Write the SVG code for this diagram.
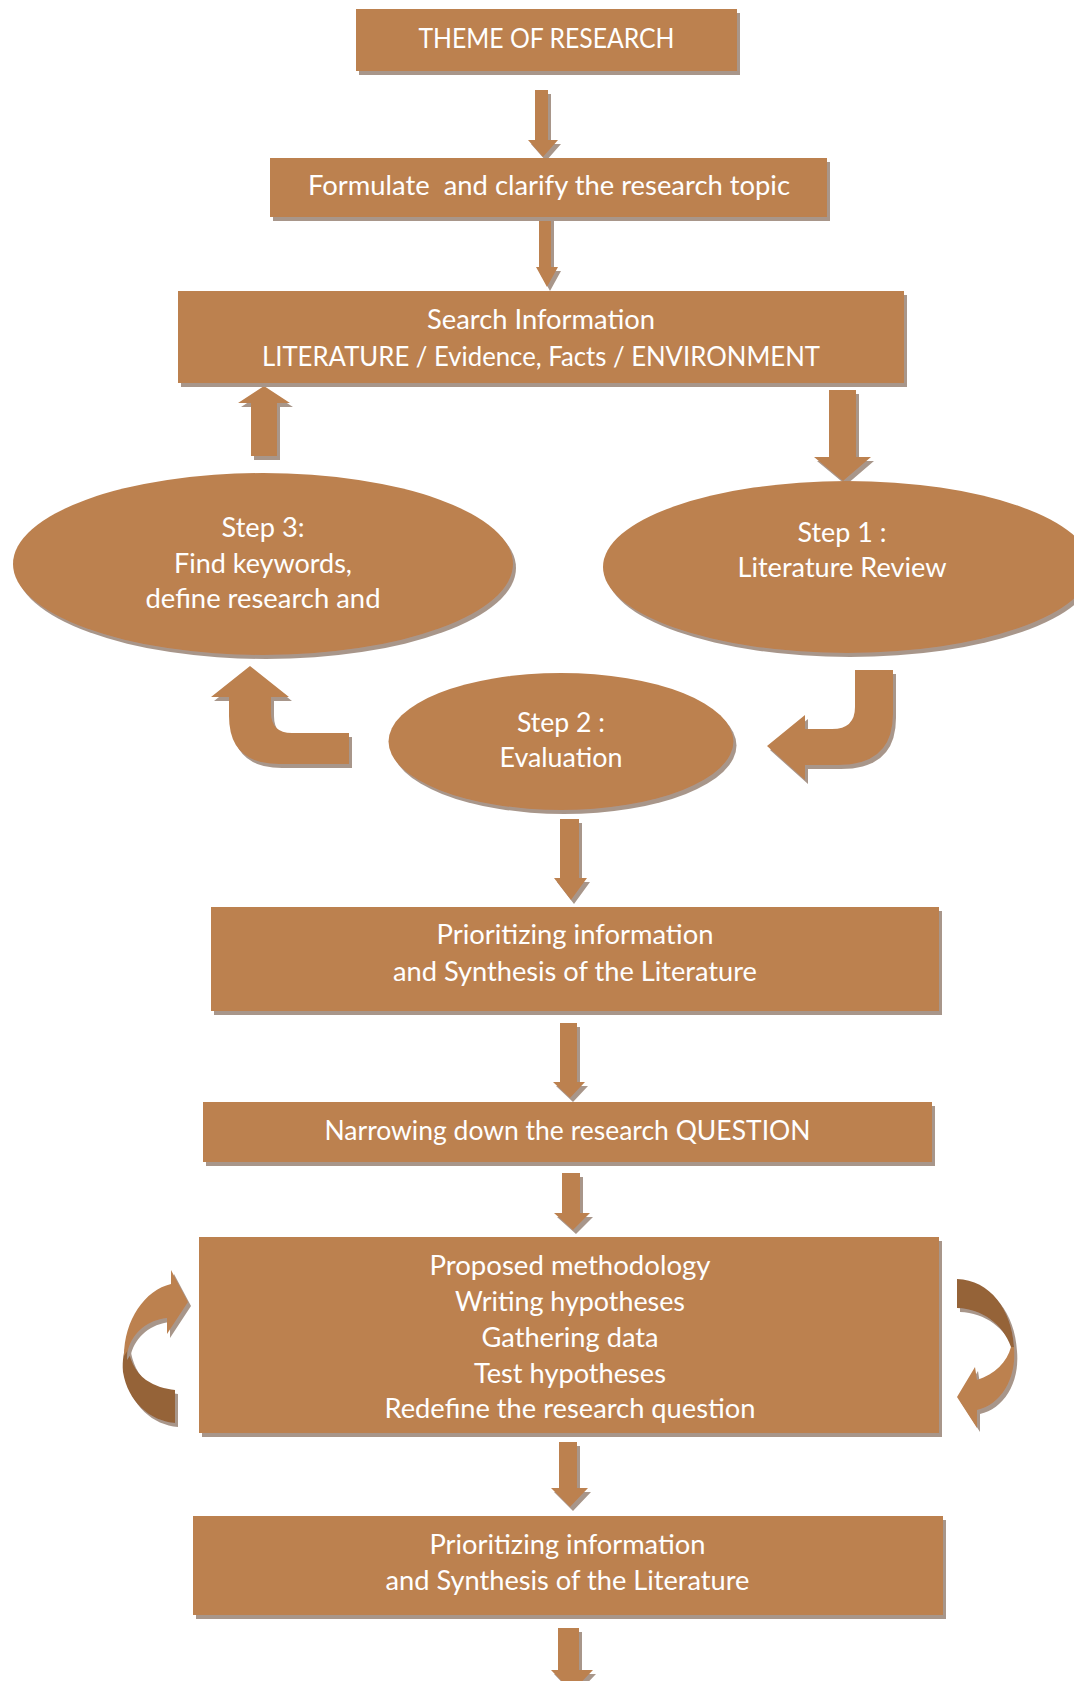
<svg xmlns="http://www.w3.org/2000/svg" width="1074" height="1681" viewBox="0 0 1074 1681">
  <defs>
    <filter id="sh" x="-5%" y="-5%" width="115%" height="120%">
      <feDropShadow dx="3" dy="4" stdDeviation="0.6" flood-color="#a8968a" flood-opacity="1"/>
    </filter>
    <style>
      .n { fill: #bc814f; filter: url(#sh); }
      .a { fill: #bc814f; filter: url(#sh); }
      .d { fill: #956339; filter: url(#sh); }
      text { font-family: Lato, "Open Sans", "Liberation Sans", sans-serif; font-size: 26px; fill: #ffffff; text-anchor: middle; }
    </style>
  </defs>
  <rect width="1074" height="1681" fill="#ffffff"/>

  <g id="connectors">
    <polygon class="a" points="535,90 548,90 548,140 558,140 543,157 528,140 535,140"/>
    <polygon class="a" points="539,217 551,217 551,267 558,267 547,287 536,267 539,267"/>
    <polygon class="a" points="251,456 277,456 277,403 290,403 264,386 238,403 251,403"/>
    <polygon class="a" points="829,390 856,390 856,457 871,457 843,481 814,457 829,457"/>
    <path class="a" d="M 349,733 L 292,733 Q 271,733 271,712 L 271,697 L 289,697 L 250,666 L 211,697 L 229,697 L 229,716 Q 229,764 279,764 L 349,764 Z"/>
    <path class="a" d="M 855,670 L 893,670 L 893,714 Q 893,765 838,765 L 805,765 L 805,780 L 767,746 L 805,715 L 805,729 L 832,729 Q 855,729 855,707 Z"/>
    <polygon class="a" points="560,819 579,819 579,878 587,878 571,900 554,878 560,878"/>
    <polygon class="a" points="560,1023 577,1023 577,1082 585,1082 570,1098 553,1082 560,1082"/>
    <polygon class="a" points="562,1173 580,1173 580,1213 590,1213 573,1230 554,1213 562,1213"/>
    <polygon class="a" points="559,1442 577,1442 577,1488 588,1488 570,1507 551,1488 559,1488"/>
    <polygon class="a" points="558,1628 579,1628 579,1670 593,1670 572,1692 551,1670 558,1670"/>
    <path class="d" d="M 175,1390 L 175,1423 C 150,1421 128,1402 123,1372 C 122,1360 124,1350 127,1343 C 129,1358 135,1372 146,1380 C 155,1386 165,1389 175,1390 Z"/>
    <path class="a" d="M 124,1356 C 124,1320 145,1290 171,1284 L 171,1270 L 188,1302 L 167,1334 L 167,1318 C 148,1320 133,1332 128,1350 Z"/>
    <path class="d" d="M 957,1279 C 990,1280 1012,1310 1014,1347 L 1011,1347 C 1003,1324 982,1309 957,1308 Z"/>
    <path class="a" d="M 1014,1347 C 1017,1380 1000,1405 977,1410 L 977,1428 L 957,1397 L 975,1367 L 977,1380 C 995,1374 1007,1362 1011,1347 Z"/>
  </g>

  <g id="theme">
    <rect class="n" x="356" y="9" width="381" height="62"/>
    <text x="546.5" y="48" textLength="256" lengthAdjust="spacingAndGlyphs">THEME OF RESEARCH</text>
  </g>
  <g id="formulate">
    <rect class="n" x="270" y="158" width="557" height="59"/>
    <text x="549" y="195" xml:space="preserve" textLength="482" lengthAdjust="spacingAndGlyphs">Formulate  and clarify the research topic</text>
  </g>
  <g id="search">
    <rect class="n" x="178" y="291" width="726" height="92"/>
    <text x="541" y="329" textLength="228" lengthAdjust="spacingAndGlyphs">Search Information</text>
    <text x="541" y="366" textLength="558" lengthAdjust="spacingAndGlyphs">LITERATURE / Evidence, Facts / ENVIRONMENT</text>
  </g>
  <g id="step3">
    <ellipse class="n" cx="263" cy="564" rx="250" ry="91"/>
    <text x="263" y="537" textLength="83" lengthAdjust="spacingAndGlyphs">Step 3:</text>
    <text x="263" y="572.5" textLength="178" lengthAdjust="spacingAndGlyphs">Find keywords,</text>
    <text x="263" y="608" textLength="235" lengthAdjust="spacingAndGlyphs">define research and</text>
  </g>
  <g id="step1">
    <ellipse class="n" cx="847" cy="567" rx="244" ry="86"/>
    <text x="842" y="541.5" textLength="89" lengthAdjust="spacingAndGlyphs">Step 1 :</text>
    <text x="842" y="577" textLength="209" lengthAdjust="spacingAndGlyphs">Literature Review</text>
  </g>
  <g id="step2">
    <ellipse class="n" cx="561" cy="741.5" rx="172.5" ry="68.5"/>
    <text x="561" y="731.5" textLength="88" lengthAdjust="spacingAndGlyphs">Step 2 :</text>
    <text x="561" y="766.5" textLength="123" lengthAdjust="spacingAndGlyphs">Evaluation</text>
  </g>
  <g id="prioritizing1">
    <rect class="n" x="211" y="907" width="728" height="104"/>
    <text x="575" y="944" textLength="277" lengthAdjust="spacingAndGlyphs">Prioritizing information</text>
    <text x="575" y="981" textLength="364" lengthAdjust="spacingAndGlyphs">and Synthesis of the Literature</text>
  </g>
  <g id="narrowing">
    <rect class="n" x="203" y="1102" width="729" height="60"/>
    <text x="567.5" y="1140" textLength="486" lengthAdjust="spacingAndGlyphs">Narrowing down the research QUESTION</text>
  </g>
  <g id="methodology">
    <rect class="n" x="199" y="1237" width="740" height="196"/>
    <text x="570" y="1275" textLength="281" lengthAdjust="spacingAndGlyphs">Proposed methodology</text>
    <text x="570" y="1311" textLength="230" lengthAdjust="spacingAndGlyphs">Writing hypotheses</text>
    <text x="570" y="1346.5" textLength="177" lengthAdjust="spacingAndGlyphs">Gathering data</text>
    <text x="570" y="1382.5" textLength="192" lengthAdjust="spacingAndGlyphs">Test hypotheses</text>
    <text x="570" y="1418" textLength="371" lengthAdjust="spacingAndGlyphs">Redefine the research question</text>
  </g>
  <g id="prioritizing2">
    <rect class="n" x="193" y="1516" width="750" height="99"/>
    <text x="567.5" y="1554" textLength="276" lengthAdjust="spacingAndGlyphs">Prioritizing information</text>
    <text x="567.5" y="1590" textLength="364" lengthAdjust="spacingAndGlyphs">and Synthesis of the Literature</text>
  </g>
</svg>
